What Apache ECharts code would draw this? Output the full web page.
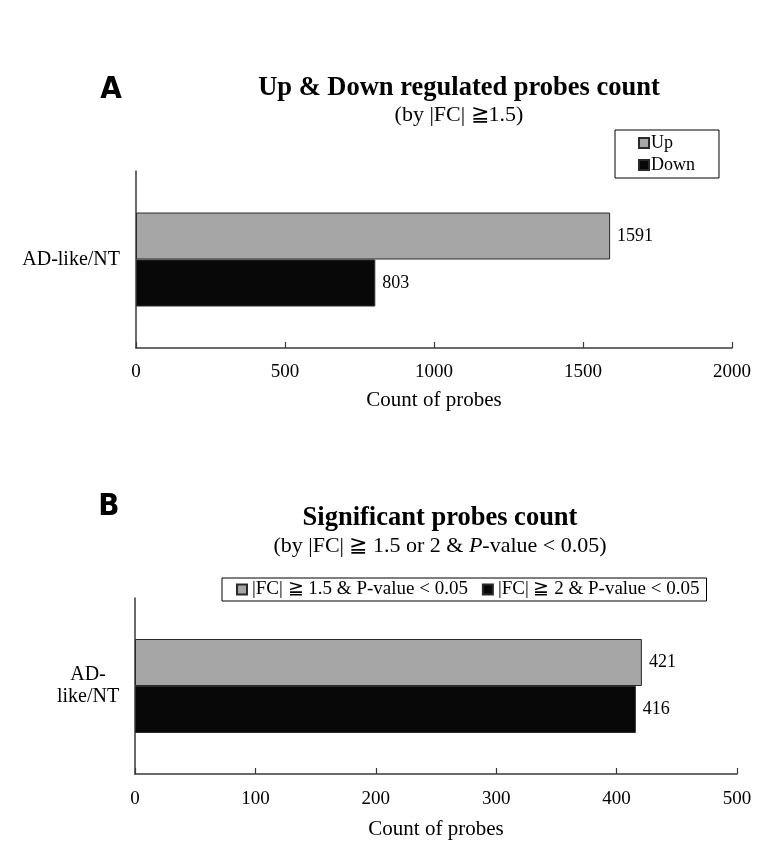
<!DOCTYPE html>
<html>
<head>
<meta charset="utf-8">
<script src="https://cdn.jsdelivr.net/npm/echarts@6/dist/echarts.min.js"></script>
<style>
html,body{margin:0;padding:0;background:#fff;}
#chart{width:782px;height:865px;}
</style>
</head>
<body>
<div id="chart"></div>
<script>
// ---- Data ----
const categoriesA = ['AD-like/NT'];
const upValues = [1591];
const downValues = [803];
const ticksA = { min: 0, max: 2000, interval: 500 };

const categoriesB = ['AD-\nlike/NT'];
const fc15Values = [421];
const fc2Values = [416];
const ticksB = { min: 0, max: 500, interval: 100 };

const seriesNamesA = ['Up', 'Down'];
const seriesNamesB = ['|FC| \u2267 1.5 & P-value < 0.05', '|FC| \u2267 2 & P-value < 0.05'];

const SERIF = '"Liberation Serif", "Times New Roman", serif';
const COND = '"Liberation Sans Narrow", "DejaVu Sans Condensed", sans-serif';
const GRAY = '#a6a6a6';
const BLACK = '#080808';
const AXIS = '#3a3a3a';

const chart = echarts.init(document.getElementById('chart'), null, { renderer: 'canvas' });

function xAxisCfg(gridIndex, t, margin, nameGap) {
  return {
    type: 'value', gridIndex: gridIndex, min: t.min, max: t.max, interval: t.interval,
    name: 'Count of probes', nameLocation: 'middle', nameGap: nameGap,
    nameTextStyle: { fontFamily: SERIF, fontSize: 21, color: '#000' },
    axisLine: { show: true, lineStyle: { color: AXIS, width: 1.5 } },
    axisTick: { show: true, inside: true, length: 6, lineStyle: { color: AXIS, width: 1.2 } },
    splitLine: { show: false },
    axisLabel: { fontFamily: SERIF, fontSize: 19, color: '#000', margin: margin, formatter: function (v) { return String(v); } }
  };
}

function barSeries(name, xi, yi, data, color) {
  return {
    name: name, type: 'bar', xAxisIndex: xi, yAxisIndex: yi, data: data,
    barWidth: 47, barGap: '0%',
    itemStyle: { color: color, borderColor: '#2a2a2a', borderWidth: 1 },
    label: { show: true, position: 'right', distance: 7, fontFamily: SERIF, fontSize: 18, color: '#000' }
  };
}

const option = {
  animation: false,
  backgroundColor: '#fff',
  grid: [
    { left: 136, top: 171, width: 596, height: 177, containLabel: false },
    { left: 135, top: 598, width: 602, height: 176, containLabel: false }
  ],
  xAxis: [
    xAxisCfg(0, ticksA, 15, 42),
    xAxisCfg(1, ticksB, 16, 45)
  ],
  yAxis: [
    {
      type: 'category', gridIndex: 0, data: categoriesA,
      axisLine: { show: true, lineStyle: { color: AXIS, width: 1.5 } },
      axisTick: { show: false },
      axisLabel: { fontFamily: SERIF, fontSize: 20, color: '#000', margin: 16 }
    },
    {
      type: 'category', gridIndex: 1, data: categoriesB,
      axisLine: { show: true, lineStyle: { color: AXIS, width: 1.5 } },
      axisTick: { show: false },
      axisLabel: { fontFamily: SERIF, fontSize: 20, color: '#000', margin: 47, align: 'center', lineHeight: 22, padding: [16, 0, 0, 0] }
    }
  ],
  legend: [
    {
      data: seriesNamesA, orient: 'vertical', left: 615, top: 130,
      icon: 'rect',
      itemWidth: 10, itemHeight: 10, itemGap: 4,
      padding: [4, 24, 4, 23],
      borderColor: '#000', borderWidth: 1,
      textStyle: { fontFamily: SERIF, fontSize: 18, color: '#000', padding: [0, 0, 0, -3] },
      selectedMode: false
    },
    {
      data: seriesNamesB, orient: 'horizontal', left: 222, top: 578,
      icon: 'rect',
      itemWidth: 10, itemHeight: 10, itemGap: 14,
      padding: [2, 7, 2, 14],
      borderColor: '#000', borderWidth: 1,
      textStyle: { fontFamily: SERIF, fontSize: 19, color: '#000' },
      selectedMode: false
    }
  ],
  series: [
    barSeries(seriesNamesA[0], 0, 0, upValues, GRAY),
    barSeries(seriesNamesA[1], 0, 0, downValues, BLACK),
    barSeries(seriesNamesB[0], 1, 1, fc15Values, GRAY),
    barSeries(seriesNamesB[1], 1, 1, fc2Values, BLACK)
  ],
  graphic: [
    { type: 'text', x: 111, y: 90, style: { text: 'A', fontFamily: COND, fontWeight: 'bold', fontSize: 31, fill: '#000', align: 'center', verticalAlign: 'middle' } },
    { type: 'text', x: 459, y: 88, style: { text: 'Up & Down regulated probes count', fontFamily: SERIF, fontWeight: 'bold', fontSize: 26.5, fill: '#000', align: 'center', verticalAlign: 'middle' } },
    { type: 'text', x: 459, y: 115, style: { text: '(by |FC| \u22671.5)', fontFamily: SERIF, fontSize: 22, fill: '#000', align: 'center', verticalAlign: 'middle' } },
    { type: 'text', x: 109, y: 507, style: { text: 'B', fontFamily: COND, fontWeight: 'bold', fontSize: 31, fill: '#000', align: 'center', verticalAlign: 'middle' } },
    { type: 'text', x: 440, y: 518, style: { text: 'Significant probes count', fontFamily: SERIF, fontWeight: 'bold', fontSize: 26.5, fill: '#000', align: 'center', verticalAlign: 'middle' } },
    { type: 'text', x: 440, y: 546, style: { text: '(by |FC| \u2267 1.5 or 2 & {i|P}-value < 0.05)', fontFamily: SERIF, fontSize: 22, fill: '#000', align: 'center', verticalAlign: 'middle', rich: { i: { fontFamily: SERIF, fontSize: 22, fontStyle: 'italic', fill: '#000' } } } }
  ]
};

chart.setOption(option);
</script>
</body>
</html>
